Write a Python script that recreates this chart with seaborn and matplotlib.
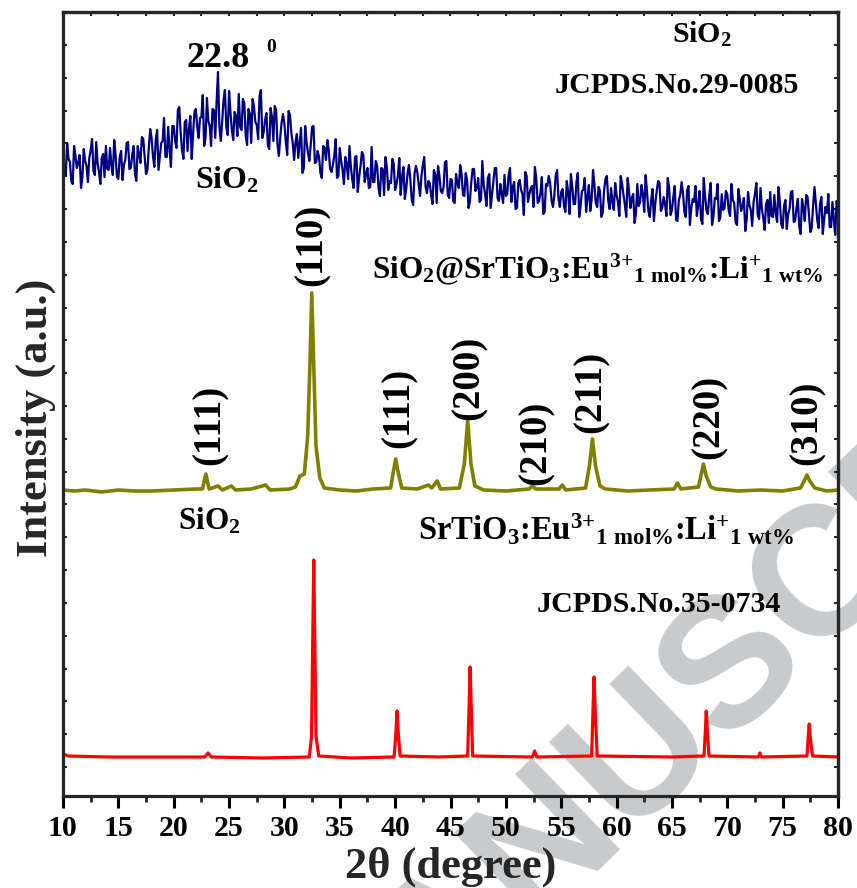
import numpy as np
import pandas as pd
import matplotlib
matplotlib.use('Agg')
import matplotlib.pyplot as plt
import seaborn as sns
from matplotlib.ticker import MultipleLocator

# ---------------- data (intensity in arbitrary units) -------------
# SiO2 amorphous pattern: readings on the quarter-degree grid ...
sio2_two_theta = np.arange(10.0, 80.001, 0.25)
sio2_intensity = [
    643, 621, 637, 615, 650, 628, 641, 619, 635, 614, 646, 625, 654, 624, 638, 619, 627, 648, 621, 641,
    617, 645, 631, 653, 627, 641, 622, 650, 633, 657, 622, 648, 658, 629, 666, 640, 655, 639, 669, 629,
    670, 648, 689, 646, 674, 645, 680, 662, 687, 658, 679, 650, 698, 670, 687, 658, 724, 655, 696, 669,
    705, 666, 684, 660, 669, 697, 661, 687, 653, 689, 671, 700, 658, 676, 651, 688, 655, 686, 640, 674,
    672, 641, 681, 653, 654, 638, 668, 628, 654, 635, 669, 633, 645, 623, 650, 636, 646, 624, 640, 618,
    648, 626, 639, 617, 629, 608, 640, 619, 644, 614, 628, 609, 614, 635, 608, 628, 601, 629, 615, 637,
    606, 620, 601, 629, 607, 631, 596, 622, 624, 600, 631, 609, 615, 601, 626, 593, 620, 603, 634, 601,
    617, 595, 622, 608, 622, 600, 616, 594, 627, 605, 618, 596, 611, 590, 622, 601, 628, 598, 612, 593,
    600, 621, 594, 614, 588, 616, 602, 624, 594, 608, 589, 617, 595, 619, 584, 610, 613, 589, 620, 598,
    604, 590, 615, 582, 609, 592, 623, 590, 606, 584, 611, 597, 611, 589, 605, 583, 617, 595, 608, 586,
    601, 580, 612, 591, 618, 588, 602, 583, 590, 611, 584, 604, 579, 607, 593, 615, 585, 599, 580, 608,
    586, 610, 575, 601, 603, 579, 610, 588, 594, 580, 605, 572, 599, 582, 613, 580, 597, 575, 602, 588,
    602, 580, 596, 574, 607, 585, 598, 576, 591, 570, 602, 581, 608, 578, 592, 573, 580, 601, 574, 594,
    568, 596, 582, 604, 574, 588, 569, 597, 575, 599, 564, 590, 592, 568, 599, 577, 583, 569, 594, 561,
    589]
# ... and the readings in between (10.125, 10.375, ...)
sio2_two_theta_mid = np.arange(10.125, 80.0, 0.25)
sio2_intensity_mid = [
    627, 653, 634, 612, 640, 633, 608, 647, 630, 638, 657, 621, 633, 612, 642, 650, 626, 630, 656, 619,
    639, 616, 636, 654, 628, 650, 615, 641, 659, 640, 626, 667, 640, 656, 626, 653, 678, 639, 647, 670,
    655, 686, 664, 637, 676, 667, 637, 684, 669, 678, 701, 658, 675, 650, 686, 695, 670, 674, 706, 661,
    684, 656, 680, 702, 666, 693, 651, 682, 697, 674, 657, 706, 664, 683, 647, 679, 690, 651, 659, 682,
    654, 685, 663, 636, 662, 653, 623, 670, 643, 651, 670, 634, 639, 618, 648, 656, 627, 631, 657, 620,
    635, 612, 632, 650, 617, 639, 604, 630, 641, 622, 608, 649, 614, 630, 600, 627, 639, 606, 613, 632,
    612, 638, 619, 597, 623, 616, 591, 630, 612, 620, 639, 603, 613, 592, 622, 630, 605, 609, 635, 598,
    616, 593, 613, 631, 601, 623, 588, 614, 627, 608, 594, 635, 602, 618, 588, 615, 628, 595, 602, 621,
    602, 628, 609, 587, 613, 606, 581, 620, 602, 610, 629, 593, 603, 582, 612, 620, 596, 600, 626, 589,
    607, 584, 604, 622, 592, 614, 579, 605, 618, 599, 585, 626, 593, 609, 579, 606, 620, 587, 594, 613,
    594, 620, 601, 579, 605, 598, 573, 612, 594, 602, 621, 585, 596, 575, 605, 613, 588, 592, 618, 581,
    599, 576, 596, 614, 584, 606, 571, 597, 610, 591, 577, 618, 585, 601, 571, 598, 612, 579, 586, 605,
    586, 612, 593, 571, 597, 590, 565, 604, 586, 594, 613, 577, 587, 566, 596, 604, 579, 583, 609, 572,
    590, 567, 587, 605, 575, 597, 562, 588, 601, 582, 568, 609, 576, 592, 562, 589, 602, 569, 576, 595]

# SiO2@SrTiO3:Eu,Li pattern
core_two_theta = [10.0, 11.0, 12.0, 13.5, 15.0, 16.5, 18.0, 20.0, 22.0, 22.6, 22.9, 23.2, 24.0, 24.4,
                  25.2, 25.6, 27.0, 28.3, 28.7, 30.5, 31.0, 31.4, 31.8, 32.1, 32.3, 32.47, 32.65,
                  32.85, 33.2, 33.6, 35.0, 36.5, 38.0, 39.6, 39.85, 40.05, 40.25, 40.6, 42.0, 43.0,
                  43.3, 43.8, 44.1, 45.8, 46.25, 46.55, 46.85, 47.2, 48.0, 50.0, 52.1, 52.4, 52.7,
                  54.8, 55.1, 55.4, 57.2, 57.55, 57.82, 58.1, 58.5, 59.0, 61.0, 63.0, 65.2, 65.5,
                  65.8, 67.4, 67.65, 67.84, 68.1, 68.5, 69.0, 71.0, 73.0, 75.0, 76.6, 76.95, 77.18,
                  77.45, 77.9, 79.0, 80.0]
core_intensity = [306, 305, 306, 304, 306, 305, 305, 306, 307, 307, 322, 307, 310, 306,
                  310, 306, 307, 311, 306, 307, 309, 320, 322, 360, 430, 503, 430,
                  350, 318, 308, 306, 305, 307, 308, 325, 337, 325, 308, 307, 311,
                  308, 315, 307, 308, 332, 375, 332, 310, 306, 305, 307, 310, 307,
                  307, 311, 306, 308, 330, 357, 330, 310, 307, 305, 306, 307, 313,
                  307, 309, 322, 332, 320, 309, 307, 305, 306, 305, 308, 315, 321,
                  315, 308, 305, 306]

# SrTiO3:Eu,Li pattern
sto_two_theta = [10.0, 10.5, 14.0, 18.0, 22.8, 23.1, 23.4, 28.0, 32.25, 32.45, 32.55, 32.65,
                 32.75, 32.85, 33.1, 36.0, 39.9, 40.05, 40.17, 40.3, 40.45, 44.0, 46.55,
                 46.68, 46.77, 46.87, 47.0, 52.4, 52.6, 52.8, 57.75, 57.88, 57.97, 58.07,
                 58.25, 65.0, 67.9, 68.02, 68.1, 68.2, 68.35, 72.8, 72.95, 73.1, 77.2,
                 77.32, 77.4, 77.5, 77.7, 80.0]
sto_intensity = [42, 40, 39, 39, 39, 43, 39, 38, 39, 60, 150, 236,
                 150, 60, 40, 38, 39, 60, 85, 60, 40, 39, 40,
                 90, 129, 90, 40, 39, 45, 39, 40, 90, 119, 85,
                 40, 39, 40, 65, 85, 65, 40, 39, 43, 39, 40,
                 60, 72, 58, 40, 39]

x_ticks = [10, 15, 20, 25, 30, 35, 40, 45, 50, 55, 60, 65, 70, 75, 80]

# ---------------- styling ----------------
sns.set_style('ticks')
plt.rcParams['font.family'] = ['Liberation Serif', 'DejaVu Serif']
plt.rcParams['font.weight'] = 'bold'
plt.rcParams['mathtext.fontset'] = 'custom'
for k in ('rm', 'it', 'bf', 'sf'):
    plt.rcParams['mathtext.' + k] = 'Liberation Serif:bold'
plt.rcParams['mathtext.default'] = 'rm'

W, H = 857, 888
fig = plt.figure(figsize=(W / 100, H / 100), dpi=100)
ax = fig.add_axes([63 / W, 92 / H, 775 / W, 784 / H])
ax.patch.set_alpha(0)


def P(x, y):
    return x / W, 1 - y / H


# watermark (beneath everything)
wx, wy = P(326, 1122)
fig.text(wx, wy, 'MANUSCRIPT', rotation=44, rotation_mode='anchor', ha='left', va='baseline',
         fontsize=132, family='Liberation Sans', weight='bold', color='#c9cacc', zorder=-5)

df_sio2 = pd.DataFrame({'two_theta': np.concatenate([sio2_two_theta, sio2_two_theta_mid]),
                        'intensity': sio2_intensity + sio2_intensity_mid})
df_sio2 = df_sio2.sort_values('two_theta')
df_core = pd.DataFrame({'two_theta': core_two_theta, 'intensity': core_intensity})
df_sto = pd.DataFrame({'two_theta': sto_two_theta, 'intensity': sto_intensity})

sns.lineplot(data=df_sto, x='two_theta', y='intensity', color='#ff0000', lw=2.3, ax=ax)
sns.lineplot(data=df_core, x='two_theta', y='intensity', color='#808000', lw=2.6, ax=ax)
sns.lineplot(data=df_sio2, x='two_theta', y='intensity', color='#000080', lw=1.6, ax=ax)

ax.set_xlim(10, 80)
ax.set_ylim(0, 784)
ax.set_xticks(x_ticks)
ax.set_xticklabels([str(t) for t in x_ticks])
ax.xaxis.set_minor_locator(MultipleLocator(2.5))
ax.yaxis.set_major_locator(MultipleLocator(32.82, offset=29))
ax.tick_params(axis='x', which='major', direction='out', length=8.5, width=2.2, pad=5,
               labelsize=21.5, colors='black')
ax.tick_params(axis='x', which='minor', direction='out', length=4.5, width=2.0)
ax.tick_params(axis='y', which='both', direction='in', length=3, width=1.5, labelleft=False)
for lab in ax.get_xticklabels():
    lab.set_fontweight('bold')
for s in ax.spines.values():
    s.set_linewidth(2.3)
    s.set_visible(True)

top = ax.secondary_xaxis('top')
top.set_xticks(np.arange(10, 80.1, 2.5))
top.tick_params(direction='in', length=3, width=1.5, labeltop=False)
right = ax.secondary_yaxis('right')
right.yaxis.set_major_locator(MultipleLocator(32.82, offset=29))
right.tick_params(direction='in', length=3, width=1.5, labelright=False)
for sec in (top, right):
    for s in sec.spines.values():
        s.set_linewidth(2.3)

ax.set_xlabel('2θ (degree)', fontsize=32, fontweight='bold')
ax.xaxis.label.set_va('baseline')
ax.xaxis.set_label_coords(0.5, (796 - 878) / 784)
ax.set_ylabel('Intensity (a.u.)', fontsize=32, fontweight='bold')
ax.yaxis.label.set_rotation_mode('anchor')
ax.yaxis.label.set_va('baseline')
ax.yaxis.set_label_coords((47 - 63) / 775, (796 - 418) / 784)

# ---------------- annotations ----------------
def T(x, y, s, size, **kw):
    fx, fy = P(x, y)
    kw.setdefault('ha', 'left')
    kw.setdefault('va', 'baseline')
    fig.text(fx, fy, s, fontsize=size, fontweight='bold', color='black', **kw)


T(187, 67, '22.8', 26)
T(266, 52, '0', 14)
T(195, 188, r'SiO$_2$', 23)
T(672, 43, r'SiO$_2$', 21.5)
T(555, 93, 'JCPDS.No.29-0085', 21.5)
T(372, 278, r'SiO$_2$@SrTiO$_3$:Eu$^{3{+}}$$_{1\ mol\%}$:Li$^{+}$$_{1\ wt\%}$', 22.5)
T(178, 530, r'SiO$_2$', 22.5)
T(418, 540, r'SrTiO$_3$:Eu$^{3{+}}$$_{1\ mol\%}$:Li$^{+}$$_{1\ wt\%}$', 23.5)
T(537, 612, 'JCPDS.No.35-0734', 21.5)

miller = [('(110)', 312, 245), ('(111)', 210, 425), ('(111)', 399, 408), ('(200)', 469, 378),
          ('(210)', 536, 443), ('(211)', 591, 392), ('(220)', 709, 417), ('(310)', 807, 423)]
for s, x, y in miller:
    T(x, y, s, 28, rotation=90, ha='center', va='center')

fig.savefig('out.png', dpi=100)
